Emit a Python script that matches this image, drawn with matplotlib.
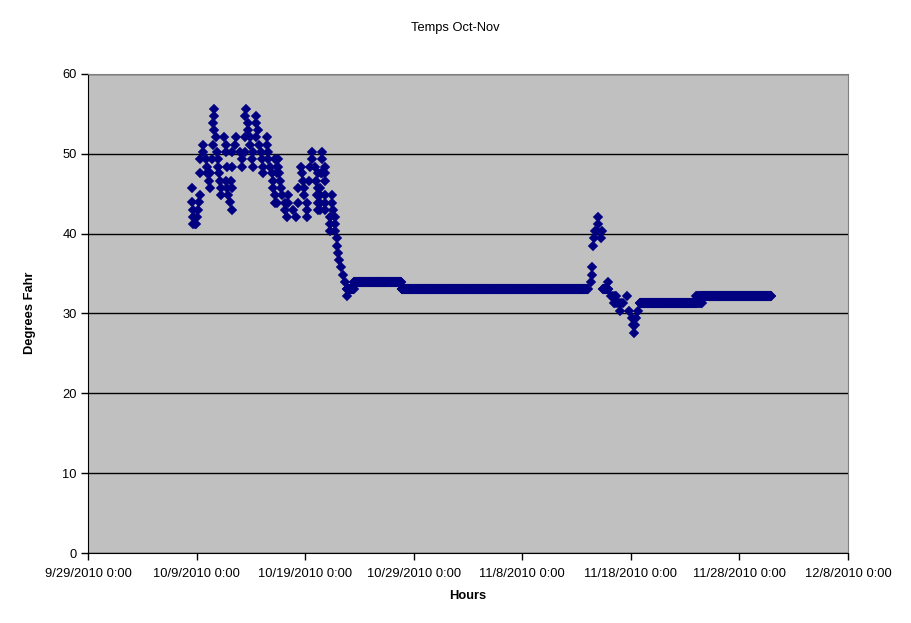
import numpy as np
import pandas as pd
import matplotlib
matplotlib.use('Agg')
from matplotlib import pyplot as plt

plt.rcParams['font.family'] = ['Liberation Sans', 'DejaVu Sans']

start = pd.Timestamp('2010-10-08 00:00')

# single readings: hours after 10/8/2010 0:00, deg F
pt_hours = [62, 62, 60, 62, 67, 85, 38, 60, 89, 38, 69, 89, 102,
            31, 45, 58, 71, 47, 72, 91, 102, 32, 48, 54, 74,
            51, 76, 88, 101, 14, 54, 77, 92, 103, 31, 78, 94,
            14, 29, 98, 15, 27, 102, 16, 26, 20, 22, 17,
            133, 131, 155, 138, 155, 138, 160,
            111, 131, 142, 155, 180, 109, 142, 162, 180,
            120, 131, 149, 166, 182, 124, 146, 169, 182, 197,
            124, 149, 171, 186, 202, 171, 191, 202, 193, 193, 197, 197,
            204, 279, 205, 255, 275, 286, 206, 256, 292, 301,
            208, 259, 273, 287, 211, 248, 261, 292, 213, 226, 262, 290,
            202, 219, 227, 248, 268, 292, 220, 237, 268, 293,
            224, 244, 269, 279, 301,
            301, 308, 299, 308, 308, 297, 297, 308, 323, 297, 308, 323,
            297, 308, 326, 319, 330, 319, 330, 319, 330,
            334, 335, 336, 339, 343, 348, 352, 356,
            896, 897, 898, 900, 902, 905, 910, 911, 912, 919, 920,
            934, 940, 944, 948, 952, 975, 946, 950, 954, 958, 962, 966,
            960, 980, 1000, 986, 996, 988, 993, 990,
            1128, 1129, 1130, 1131, 1132, 1133, 1134, 1135, 1136, 1137,
            1138, 1139, 1140, 1141]
pt_temps = [55.6, 54.7, 53.8, 53.0, 52.1, 52.1, 51.1, 51.1, 51.1, 50.2, 50.2, 50.2, 50.2,
            49.3, 49.3, 49.3, 49.3, 48.4, 48.4, 48.4, 48.4, 47.6, 47.6, 47.6, 47.6,
            46.6, 46.6, 46.6, 46.6, 45.7, 45.7, 45.7, 45.7, 45.7, 44.8, 44.8, 44.8,
            44.0, 44.0, 44.0, 43.0, 43.0, 43.0, 42.1, 42.1, 41.2, 41.2, 41.2,
            55.6, 54.7, 54.7, 53.8, 53.8, 53.0, 53.0,
            52.1, 52.1, 52.1, 52.1, 52.1, 51.1, 51.1, 51.1, 51.1,
            50.2, 50.2, 50.2, 50.2, 50.2, 49.3, 49.3, 49.3, 49.3, 49.3,
            48.4, 48.4, 48.4, 48.4, 48.4, 47.6, 47.6, 47.6, 46.6, 45.7, 44.8, 43.9,
            49.3, 49.3, 48.4, 48.4, 48.4, 48.4, 47.6, 47.6, 47.6, 47.6,
            46.6, 46.6, 46.6, 46.6, 45.7, 45.7, 45.7, 45.7, 44.8, 44.8, 44.8, 44.8,
            43.9, 43.9, 43.9, 43.9, 43.9, 43.9, 43.0, 43.0, 43.0, 43.0,
            42.1, 42.1, 42.1, 50.2, 50.2,
            49.3, 48.4, 47.6, 47.6, 46.6, 45.7, 44.8, 44.8, 44.8, 43.9, 43.9, 43.9,
            43.0, 43.0, 43.0, 42.1, 42.1, 41.2, 41.2, 40.3, 40.3,
            39.4, 38.5, 37.6, 36.7, 35.8, 34.8, 33.9, 32.2,
            33.9, 34.8, 35.8, 38.4, 39.4, 40.3, 40.3, 41.2, 42.1, 39.4, 40.3,
            33.9, 32.2, 32.2, 32.2, 32.2, 32.2, 31.3, 31.3, 31.3, 31.3, 31.3, 31.3,
            30.3, 30.3, 30.3, 29.4, 29.4, 28.6, 28.6, 27.6,
            32.2, 31.3, 32.2, 31.3, 32.2, 31.3, 32.2, 31.3, 32.2, 31.3,
            32.2, 31.3, 32.2, 31.3]

# flat stretches where every hourly reading is the same: first hour, last hour, deg F
run_first = [356, 372, 477, 922, 1004, 1142]
run_last = [371, 476, 889, 934, 1127, 1294]
run_temp = [33.1, 34.0, 33.1, 33.1, 31.3, 32.2]

hours = list(pt_hours)
temps = list(pt_temps)
for a, b, t in zip(run_first, run_last, run_temp):
    for h in range(a, b + 1):
        hours.append(h)
        temps.append(t)

times = start + pd.to_timedelta(hours, unit='h')

tick_dates = pd.date_range('2010-09-29', '2010-12-08', freq='10D')
tick_labels = [f'{d.month}/{d.day}/{d.year} 0:00' for d in tick_dates]

fig = plt.figure(figsize=(9.11, 6.23), dpi=100)
ax = fig.add_axes([88 / 911, 1 - 553 / 623, 760 / 911, 479 / 623])
ax.set_facecolor('#C0C0C0')

ax.plot(times, temps, linestyle='none', marker='D', markersize=4.6,
        color='#000080', markeredgecolor='#000080', markeredgewidth=0.2)

ax.set_xlim(tick_dates[0], tick_dates[-1])
ax.set_ylim(0, 60)
ax.set_xticks(tick_dates)
ax.set_xticklabels(tick_labels)
ax.set_yticks(range(0, 61, 10))
ax.tick_params(axis='both', direction='out', length=5, width=1, color='black',
               labelsize=9.3, labelcolor='black')
ax.tick_params(axis='x', pad=5.5)
ax.tick_params(axis='y', pad=3)

ax.yaxis.grid(True, color='black', linewidth=1)
ax.set_axisbelow(True)
for s in ['top', 'right']:
    ax.spines[s].set_color('#808080')
for s in ['left', 'bottom']:
    ax.spines[s].set_color('black')

fig.text(0.5, 1 - 28 / 623, 'Temps Oct-Nov', ha='center', va='center', fontsize=9.3)
fig.text(468 / 911, 1 - 596 / 623, 'Hours', ha='center', va='center',
         fontsize=9.3, fontweight='bold')
fig.text(30 / 911, 1 - 313 / 623, 'Degrees Fahr', ha='center', va='center',
         rotation=90, fontsize=9.3, fontweight='bold')

fig.savefig('out.png', dpi=100, facecolor='white')
